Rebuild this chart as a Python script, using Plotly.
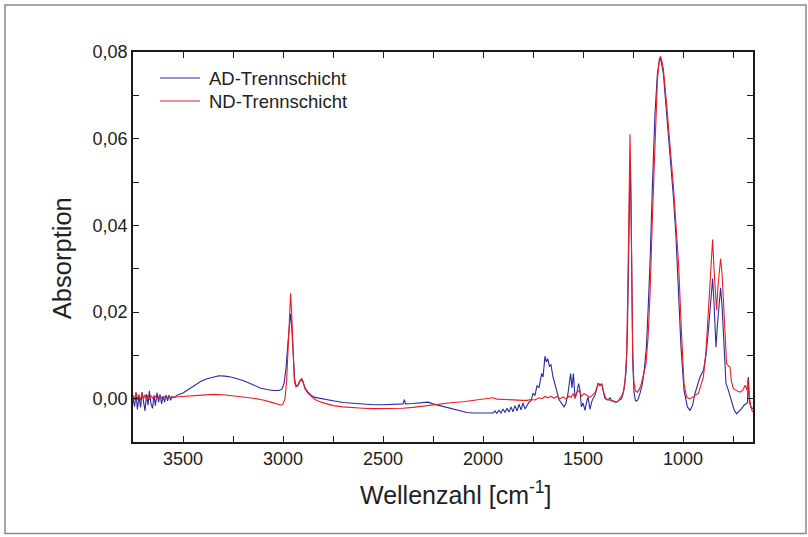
import plotly.graph_objects as go

# ---------------- data ----------------
ad_wavenumber = [
    3750, 3742, 3735, 3728, 3720, 3712, 3705, 3698, 3690, 3682, 3675, 3668, 3660, 3652,
    3645, 3638, 3630, 3622, 3615, 3607, 3600, 3592, 3585, 3577, 3570, 3562, 3555, 3545,
    3530, 3500, 3470, 3440, 3410, 3380, 3350, 3320, 3290, 3260, 3230, 3200, 3170, 3140,
    3110, 3080, 3050, 3020, 3005, 2995, 2985, 2975, 2968, 2962, 2957, 2950, 2942, 2935,
    2925, 2915, 2907, 2900, 2890, 2875, 2860, 2840, 2810, 2780, 2750, 2700, 2650, 2600,
    2550, 2500, 2450, 2400, 2393, 2388, 2350, 2300, 2275, 2250, 2200, 2150, 2100, 2080,
    2050, 2000, 1970, 1950, 1940, 1932, 1920, 1910, 1900, 1890, 1880, 1870, 1860, 1850,
    1840, 1830, 1820, 1810, 1800, 1790, 1780, 1770, 1760, 1750, 1740, 1730, 1720, 1707,
    1700, 1690, 1683, 1676, 1668, 1660, 1650, 1640, 1632, 1620, 1607, 1595, 1585, 1575,
    1562, 1555, 1548, 1540, 1530, 1522, 1515, 1508, 1500, 1490, 1482, 1475, 1465, 1457,
    1448, 1440, 1430, 1423, 1415, 1407, 1398, 1390, 1375, 1365, 1357, 1345, 1332, 1320,
    1307, 1295, 1285, 1278, 1272, 1267, 1264, 1260, 1256, 1251, 1245, 1238, 1232, 1225,
    1215, 1205, 1195, 1183, 1175, 1165, 1152, 1140, 1128, 1118, 1112, 1105, 1098, 1082,
    1065, 1048, 1035, 1022, 1010, 995, 978, 965, 952, 940, 928, 915, 898, 885,
    873, 862, 852, 845, 840, 835, 828, 818, 812, 805, 798, 790, 785, 773,
    760, 745, 732, 720, 707, 695, 685, 678, 673, 668, 660, 650,
]
ad_absorption = [
    0.0000, -0.0018, 0.0012, -0.0025, 0.0005, -0.0020, 0.0015, -0.0010, -0.0028, 0.0010, -0.0015, 0.0018, -0.0012, -0.0022,
    0.0008, -0.0016, 0.0014, -0.0008, 0.0010, -0.0012, 0.0006, -0.0008, 0.0009, -0.0005, 0.0008, -0.0004, 0.0005, 0.0002,
    0.0008, 0.0013, 0.0022, 0.0032, 0.0040, 0.0046, 0.0050, 0.0053, 0.0052, 0.0050, 0.0046, 0.0042, 0.0036, 0.0030,
    0.0024, 0.0021, 0.0019, 0.0019, 0.0022, 0.0035, 0.0070, 0.0130, 0.0180, 0.0196, 0.0170, 0.0100, 0.0045, 0.0029,
    0.0032, 0.0042, 0.0046, 0.0040, 0.0025, 0.0015, 0.0008, 0.0003, 0.0000, -0.0002, -0.0005, -0.0009, -0.0011, -0.0013,
    -0.0014, -0.0014, -0.0013, -0.0012, -0.0002, -0.0012, -0.0011, -0.0009, -0.0008, -0.0012, -0.0018, -0.0024, -0.0029, -0.0032,
    -0.0033, -0.0034, -0.0033, -0.0033, -0.0028, -0.0034, -0.0027, -0.0033, -0.0024, -0.0032, -0.0022, -0.0031, -0.0019, -0.0030,
    -0.0016, -0.0028, -0.0013, -0.0026, -0.0010, -0.0024, -0.0015, -0.0008, -0.0005, 0.0012, 0.0008, 0.0030, 0.0025, 0.0058,
    0.0050, 0.0098, 0.0085, 0.0092, 0.0075, 0.0078, 0.0050, 0.0035, 0.0019, -0.0002, -0.0012, -0.0019, -0.0010, 0.0012,
    0.0058, 0.0025, 0.0058, 0.0004, 0.0015, 0.0035, 0.0020, -0.0019, -0.0010, -0.0027, -0.0008, 0.0004, -0.0025, -0.0008,
    0.0002, 0.0008, 0.0025, 0.0036, 0.0030, 0.0035, 0.0015, 0.0000, -0.0003, 0.0002, -0.0004, -0.0006, -0.0008, -0.0004,
    0.0000, 0.0020, 0.0060, 0.0150, 0.0350, 0.0520, 0.0548, 0.0450, 0.0250, 0.0080, 0.0015, -0.0004, -0.0006, -0.0002,
    0.0012, 0.0030, 0.0060, 0.0119, 0.0200, 0.0312, 0.0504, 0.0658, 0.0750, 0.0780, 0.0785, 0.0770, 0.0750, 0.0658,
    0.0566, 0.0466, 0.0373, 0.0250, 0.0119, 0.0019, -0.0019, -0.0027, -0.0015, 0.0012, 0.0032, 0.0050, 0.0065, 0.0100,
    0.0158, 0.0220, 0.0277, 0.0220, 0.0160, 0.0119, 0.0170, 0.0235, 0.0256, 0.0215, 0.0158, 0.0080, 0.0035, 0.0019,
    -0.0004, -0.0025, -0.0035, -0.0030, -0.0023, -0.0015, -0.0012, -0.0010, 0.0050, -0.0008, -0.0020, -0.0023,
]

nd_wavenumber = [
    3750, 3742, 3735, 3727, 3720, 3712, 3705, 3697, 3690, 3682, 3675, 3667, 3660, 3650,
    3640, 3630, 3620, 3610, 3600, 3570, 3540, 3500, 3450, 3400, 3350, 3300, 3250, 3200,
    3150, 3100, 3060, 3030, 3010, 3000, 2990, 2982, 2975, 2968, 2962, 2957, 2950, 2943,
    2935, 2925, 2915, 2907, 2900, 2890, 2875, 2860, 2840, 2810, 2780, 2750, 2700, 2650,
    2600, 2550, 2500, 2450, 2400, 2350, 2300, 2250, 2200, 2150, 2100, 2050, 2000, 1970,
    1950, 1930, 1900, 1870, 1850, 1830, 1800, 1780, 1760, 1740, 1720, 1705, 1690, 1675,
    1660, 1645, 1630, 1615, 1600, 1585, 1570, 1560, 1548, 1540, 1530, 1518, 1508, 1495,
    1480, 1465, 1450, 1438, 1425, 1415, 1405, 1395, 1385, 1370, 1355, 1340, 1325, 1310,
    1300, 1290, 1282, 1276, 1270, 1265, 1261, 1257, 1252, 1246, 1238, 1228, 1218, 1208,
    1197, 1185, 1175, 1165, 1152, 1140, 1128, 1118, 1112, 1105, 1098, 1082, 1065, 1048,
    1035, 1022, 1008, 995, 982, 970, 955, 940, 923, 910, 898, 885, 873, 862,
    852, 845, 838, 832, 825, 812, 805, 798, 790, 782, 772, 765, 758, 748,
    730, 715, 700, 690, 680, 675, 670, 660, 652,
]
nd_absorption = [
    0.0008, -0.0003, 0.0015, -0.0002, 0.0010, -0.0004, 0.0012, 0.0000, 0.0009, -0.0003, 0.0008, -0.0002, 0.0007, 0.0000,
    0.0006, 0.0001, 0.0005, 0.0002, 0.0004, 0.0003, 0.0004, 0.0005, 0.0007, 0.0009, 0.0010, 0.0009, 0.0007, 0.0004,
    0.0001, -0.0003, -0.0008, -0.0013, -0.0015, -0.0012, 0.0000, 0.0040, 0.0110, 0.0200, 0.0243, 0.0200, 0.0100, 0.0040,
    0.0027, 0.0030, 0.0040, 0.0045, 0.0038, 0.0022, 0.0012, 0.0005, -0.0002, -0.0008, -0.0012, -0.0016, -0.0019, -0.0021,
    -0.0022, -0.0023, -0.0023, -0.0023, -0.0022, -0.0020, -0.0017, -0.0014, -0.0011, -0.0009, -0.0007, -0.0004, -0.0001, 0.0001,
    0.0002, -0.0001, -0.0002, -0.0002, -0.0004, -0.0003, -0.0004, -0.0004, -0.0002, -0.0003, 0.0002, 0.0000, 0.0005, 0.0002,
    0.0006, 0.0001, 0.0005, 0.0000, 0.0004, -0.0001, 0.0006, 0.0003, 0.0012, 0.0000, 0.0014, 0.0019, 0.0005, 0.0012,
    0.0008, 0.0003, 0.0010, 0.0015, 0.0035, 0.0032, 0.0033, 0.0012, 0.0000, -0.0003, -0.0005, -0.0008, -0.0006, 0.0005,
    0.0012, 0.0040, 0.0100, 0.0250, 0.0480, 0.0610, 0.0500, 0.0300, 0.0120, 0.0040, 0.0018, 0.0015, 0.0022, 0.0035,
    0.0060, 0.0080, 0.0140, 0.0240, 0.0430, 0.0610, 0.0735, 0.0785, 0.0790, 0.0778, 0.0760, 0.0680, 0.0590, 0.0490,
    0.0400, 0.0310, 0.0158, 0.0035, 0.0004, 0.0000, 0.0002, 0.0008, 0.0012, 0.0030, 0.0050, 0.0110, 0.0196, 0.0290,
    0.0367, 0.0300, 0.0230, 0.0204, 0.0260, 0.0323, 0.0290, 0.0235, 0.0150, 0.0081, 0.0075, 0.0073, 0.0040, 0.0023,
    0.0018, 0.0015, 0.0020, 0.0031, 0.0020, 0.0045, 0.0010, -0.0020, -0.0031,
]

series_names = ["AD-Trennschicht", "ND-Trennschicht"]
series_colors = ["#2b2b9e", "#ec1c24"]

x_tick_values = [3500, 3000, 2500, 2000, 1500, 1000]
x_tick_labels = ["3500", "3000", "2500", "2000", "1500", "1000"]
y_tick_values = [0.00, 0.02, 0.04, 0.06, 0.08]
y_tick_labels = ["0,00", "0,02", "0,04", "0,06", "0,08"]

# ---------------- figure ----------------
fig = go.Figure()
for wn, ab, name, color in [(ad_wavenumber, ad_absorption, series_names[0], series_colors[0]),
                            (nd_wavenumber, nd_absorption, series_names[1], series_colors[1])]:
    fig.add_trace(go.Scatter(x=wn, y=ab, mode="lines", name=name,
                             line=dict(color=color, width=1.1), showlegend=False))

font_family = "Liberation Sans, Arial, sans-serif"
text_color = "#222222"
axis_common = dict(
    showline=True, linecolor="#1a1a1a", linewidth=1.6, mirror="ticks",
    ticks="inside", ticklen=6, tickwidth=1.2, tickcolor="#1a1a1a",
    showgrid=False, zeroline=False,
    tickfont=dict(family=font_family, size=18, color=text_color),
)

# legend drawn as sample lines + texts (positions in paper units)
legend_y = [0.9333, 0.8743]
shapes = [dict(type="rect", xref="paper", yref="paper",
               x0=-0.2065, x1=1.0855, y0=-0.2343, y1=1.1206,
               line=dict(color="#8a8a8a", width=1.5), fillcolor="rgba(0,0,0,0)", layer="below")]
annotations = []
for name, color, ly in zip(series_names, series_colors, legend_y):
    shapes.append(dict(type="line", xref="paper", yref="paper", x0=0.0435, x1=0.108, y0=ly, y1=ly,
                       line=dict(color=color, width=1.2)))
    annotations.append(dict(text=name, xref="paper", yref="paper", x=0.1194, y=ly,
                            xanchor="left", yanchor="middle", showarrow=False,
                            font=dict(family=font_family, size=18.5, color=text_color)))

annotations.append(dict(text="Wellenzahl [cm<sup>-1</sup>]", xref="paper", yref="paper",
                        x=0.521, y=-0.1316, xanchor="center", yanchor="middle", showarrow=False,
                        font=dict(family=font_family, size=25, color=text_color)))
annotations.append(dict(text="Absorption", xref="paper", yref="paper", textangle=-90,
                        x=-0.1145, y=0.4714, xanchor="center", yanchor="middle", showarrow=False,
                        font=dict(family=font_family, size=25.5, color=text_color)))

fig.update_layout(
    width=808, height=537,
    margin=dict(l=133, r=55, t=52, b=95),
    paper_bgcolor="white", plot_bgcolor="white",
    showlegend=False,
    xaxis=dict(range=[3750, 650], tickmode="array", tickvals=x_tick_values, ticktext=x_tick_labels,
               minor=dict(ticks="inside", tick0=0, dtick=250, ticklen=6, tickwidth=1.2, tickcolor="#1a1a1a"),
               **axis_common),
    yaxis=dict(range=[-0.01, 0.08], tickmode="array", tickvals=y_tick_values, ticktext=y_tick_labels,
               minor=dict(ticks="inside", tick0=0, dtick=0.01, ticklen=6, tickwidth=1.2, tickcolor="#1a1a1a"),
               **axis_common),
    shapes=shapes,
    annotations=annotations,
)

fig.write_html("out.html", config={"displayModeBar": False},
               post_script="document.body.style.margin='0px';")
